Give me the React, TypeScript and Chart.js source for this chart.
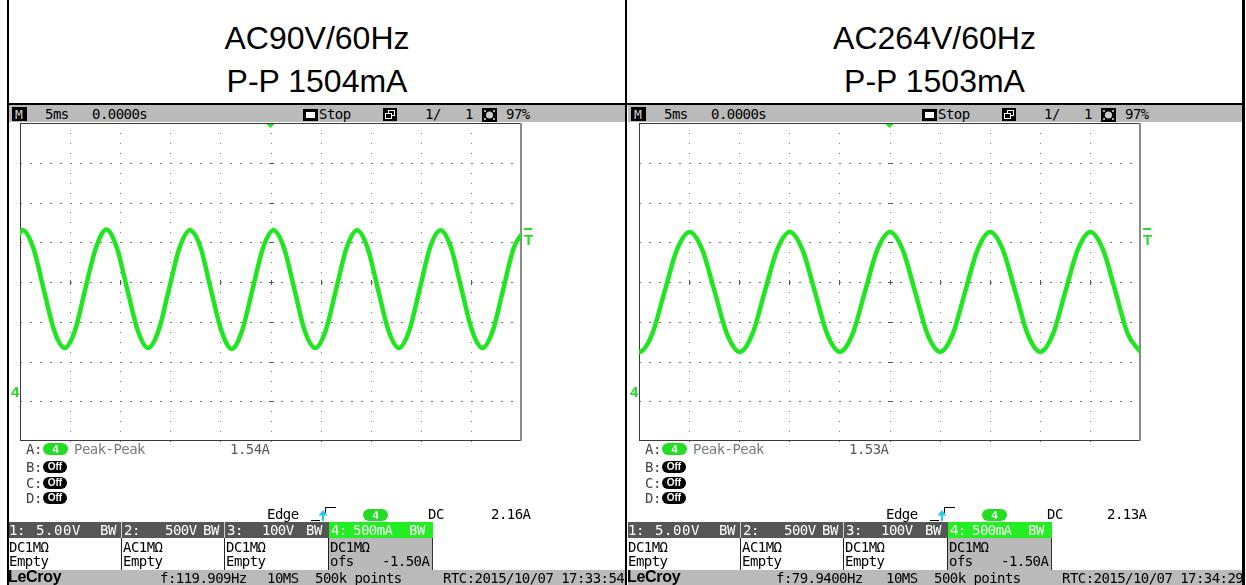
import React, { useEffect, useRef } from 'react';
import { Chart, registerables } from 'chart.js';

Chart.register(...registerables);

// ---------------- data ----------------
// Oscilloscope divisions: 5 ms/div horizontally, 500 mA/div vertically (ch4, offset -1.50 A)
const xDivsMs = [-25, -20, -15, -10, -5, 0, 5, 10, 15, 20, 25];
const yDivsA = [-0.5, 0, 0.5, 1, 1.5, 2, 2.5, 3, 3.5];

// Left scope (AC90V/60Hz) - channel 4 current
const leftTimeMs = [
  -25.76, -24.72, -23.68, -22.64, -21.59, -20.55, -19.51, -18.47, -17.42, -16.38,
  -15.34, -14.3, -13.25, -12.21, -11.17, -10.13, -9.08, -8.04, -7.0, -5.96,
  -4.91, -3.87, -2.83, -1.79, -0.74, 0.3, 1.34, 2.38, 3.43, 4.47,
  5.51, 6.55, 7.6, 8.64, 9.68, 10.72, 11.77, 12.81, 13.85, 14.89,
  15.94, 16.98, 18.02, 19.06, 20.11, 21.15, 22.19, 23.23, 24.28, 25.32,
];
const leftCurrentA = [
  1.93, 2.15, 1.93, 1.41, 0.89, 0.67, 0.89, 1.42, 1.93, 2.16,
  1.93, 1.41, 0.89, 0.67, 0.89, 1.41, 1.93, 2.15, 1.94, 1.41,
  0.89, 0.66, 0.89, 1.41, 1.93, 2.15, 1.93, 1.41, 0.88, 0.67,
  0.89, 1.41, 1.93, 2.15, 1.93, 1.41, 0.89, 0.67, 0.89, 1.41,
  1.94, 2.15, 1.93, 1.41, 0.89, 0.67, 0.89, 1.41, 1.93, 2.15,
];

// Right scope (AC264V/60Hz)
const rightTimeMs = [
  -26.2, -24.95, -23.7, -22.45, -21.2, -19.95, -18.7, -17.45, -16.2, -14.95,
  -13.7, -12.45, -11.2, -9.95, -8.7, -7.45, -6.2, -4.95, -3.7, -2.45,
  -1.2, 0.05, 1.3, 2.55, 3.8, 5.05, 6.3, 7.55, 8.8, 10.05,
  11.3, 12.55, 13.8, 15.05, 16.3, 17.55, 18.8, 20.05, 21.3, 22.55,
  23.8, 25.05,
];
const rightCurrentA = [
  0.84, 0.62, 0.84, 1.38, 1.91, 2.13, 1.91, 1.38, 0.84, 0.62,
  0.84, 1.38, 1.91, 2.13, 1.91, 1.38, 0.84, 0.62, 0.84, 1.38,
  1.91, 2.13, 1.91, 1.38, 0.84, 0.62, 0.84, 1.38, 1.91, 2.13,
  1.91, 1.38, 0.84, 0.62, 0.84, 1.38, 1.91, 2.13, 1.91, 1.38,
  0.84, 0.62,
];

const titleLine1 = ['AC90V/60Hz', 'AC264V/60Hz'];
const titleLine2 = ['P-P 1504mA', 'P-P 1503mA'];
const peakPeakValue = ['1.54A', '1.53A'];
const triggerValue = ['2.16A', '2.13A'];
const freqText = ['f:119.909Hz', 'f:79.9400Hz'];
const rtcText = ['RTC:2015/10/07 17:33:54', 'RTC:2015/10/07 17:34:29'];
const chScale = ['5.00V', '500V', '100V', '500mA'];
const chCoupling = ['DC1M\u03a9', 'AC1M\u03a9', 'DC1M\u03a9', 'DC1M\u03a9'];

// ---------------- styling ----------------
const GREEN = '#1fe61f';
const PILL_GREEN = '#22dd22';
const BAR_GRAY = '#bababa';
const MONO = '"DejaVu Sans Mono", monospace';
const SANS = '"Liberation Sans", Arial, sans-serif';

const PAD = 4;
const CW = 501 + PAD * 2;
const CH = 318 + PAD * 2;

const scopeGrid = {
  id: 'scopeGrid',
  beforeDatasetsDraw(chart: any) {
    const { ctx, chartArea: a, scales } = chart;
    const xs = xDivsMs.map((v) => scales.x.getPixelForValue(v));
    const ys = yDivsA.map((v) => scales.y.getPixelForValue(v));
    ctx.save();
    ctx.fillStyle = '#777';
    // vertical dotted lines, 4 dots per division
    for (let i = 1; i < xs.length - 1; i++) {
      const px = Math.round(xs[i]);
      for (let j = 0; j < ys.length - 1; j++) {
        for (let k = 0; k < 4; k++) {
          const py = Math.round(ys[j] + ((ys[j + 1] - ys[j]) * k) / 4);
          ctx.fillRect(px, py, 1, 1);
        }
      }
    }
    // horizontal dotted lines, 5 dots per division
    for (let j = 1; j < ys.length - 1; j++) {
      const py = Math.round(ys[j]);
      for (let i = 0; i < xs.length - 1; i++) {
        for (let k = 0; k < 5; k++) {
          const px = Math.round(xs[i] + ((xs[i + 1] - xs[i]) * k) / 5);
          ctx.fillRect(px, py, 2, 1);
        }
      }
    }
    // centre cross ticks
    const cx = Math.round(scales.x.getPixelForValue(0));
    const cy = Math.round(scales.y.getPixelForValue(1.5));
    ctx.fillStyle = '#555';
    for (let j = 1; j < ys.length - 1; j++) ctx.fillRect(cx - 2, Math.round(ys[j]), 5, 1);
    for (let i = 1; i < xs.length - 1; i++) ctx.fillRect(Math.round(xs[i]), cy - 2, 1, 5);
    // frame
    ctx.fillStyle = '#3a3a3a';
    ctx.fillRect(a.left, a.top, a.width, 1);
    ctx.fillRect(a.left, a.bottom - 1, a.width, 1);
    ctx.fillRect(a.left, a.top, 1, a.height);
    ctx.fillStyle = '#8a8a8a';
    ctx.fillRect(a.right - 1, a.top, 2, a.height);
    ctx.restore();
  },
  afterDatasetsDraw(chart: any) {
    const { ctx, chartArea: a, scales } = chart;
    const cx = scales.x.getPixelForValue(0);
    ctx.save();
    ctx.fillStyle = GREEN;
    ctx.beginPath();
    ctx.moveTo(cx - 4, a.top + 1);
    ctx.lineTo(cx + 4, a.top + 1);
    ctx.lineTo(cx, a.top + 5);
    ctx.closePath();
    ctx.fill();
    ctx.restore();
  },
};

function ScopeChart({ times, amps }: { times: number[]; amps: number[] }) {
  const ref = useRef<HTMLCanvasElement | null>(null);
  useEffect(() => {
    if (!ref.current) return;
    const chart = new Chart(ref.current, {
      type: 'line',
      data: {
        datasets: [
          {
            data: times.map((t, i) => ({ x: t, y: amps[i] })),
            borderColor: GREEN,
            borderWidth: 4.5,
            pointRadius: 0,
            fill: false,
            cubicInterpolationMode: 'monotone',
            borderCapStyle: 'round',
            borderJoinStyle: 'round',
            clip: 0,
          } as any,
        ],
      },
      options: {
        animation: false,
        responsive: false,
        maintainAspectRatio: false,
        events: [],
        layout: { padding: PAD },
        plugins: { legend: { display: false }, tooltip: { enabled: false } },
        scales: {
          x: { type: 'linear', min: -25, max: 25, display: false },
          y: { type: 'linear', min: -0.5, max: 3.5, display: false },
        },
      },
      plugins: [scopeGrid],
    });
    return () => chart.destroy();
  }, [times, amps]);
  return (
    <canvas
      ref={ref}
      width={CW}
      height={CH}
      style={{ position: 'absolute', left: 20 - PAD, top: 123 - PAD, width: CW, height: CH }}
    />
  );
}

function Txt({ x, b, s = 14, c = '#000', w = 400, f = MONO, ls, children }: any) {
  const spacing = ls !== undefined ? ls : f === MONO ? -0.55 : 0;
  return (
    <span
      style={{
        position: 'absolute',
        left: x,
        top: b - 0.846 * s,
        fontSize: s,
        lineHeight: s + 'px',
        fontFamily: f,
        fontWeight: w,
        color: c,
        whiteSpace: 'pre',
        letterSpacing: spacing,
      }}
    >
      {children}
    </span>
  );
}

function Box({ x, y, w, h, bg, r = 0, z }: any) {
  return (
    <div style={{ position: 'absolute', left: x, top: y, width: w, height: h, background: bg, borderRadius: r, zIndex: z }} />
  );
}

function Pill({ x, y, w, h, bg, text, s }: any) {
  return (
    <div
      style={{
        position: 'absolute',
        left: x,
        top: y,
        width: w,
        height: h,
        background: bg,
        borderRadius: h / 2,
        color: '#fff',
        fontFamily: SANS,
        fontWeight: 700,
        fontSize: s,
        lineHeight: h + 'px',
        textAlign: 'center',
      }}
    >
      {text}
    </div>
  );
}

function Panel({ idx, ox, width, times, amps }: any) {
  const trigX = idx === 0 ? 491 : 488;
  const fX = idx === 0 ? 160 : 157;
  return (
    <div style={{ position: 'absolute', left: ox, top: 0, width, height: 585, overflow: 'hidden' }}>
      {/* top status bar */}
      <Box x={9} y={105} w={620} h={17} bg={BAR_GRAY} />
      <Box x={12} y={107} w={15} h={14} bg="#000" />
      <Txt x={15} b={119} s={13} c="#cfcfcf" ls={0}>M</Txt>
      <Txt x={45} b={119}>5ms</Txt>
      <Txt x={92} b={119}>0.0000s</Txt>
      <Box x={303} y={109} w={15} h={12} bg="#000" />
      <Box x={306} y={112} w={9} h={6} bg="#fff" />
      <Txt x={319} b={119}>Stop</Txt>
      <svg style={{ position: 'absolute', left: 383, top: 108 }} width={14} height={13}>
        <rect x={0} y={0} width={14} height={13} fill="#000" />
        <rect x={5.5} y={2.5} width={6} height={5} fill="none" stroke="#fff" />
        <rect x={2.5} y={5.5} width={6} height={5} fill="#000" stroke="#fff" />
      </svg>
      <Txt x={425} b={119}>1/</Txt>
      <Txt x={465} b={119}>1</Txt>
      <svg style={{ position: 'absolute', left: 482, top: 108 }} width={15} height={14}>
        <rect x={0} y={0} width={15} height={14} fill="#000" />
        <circle cx={7.5} cy={7} r={3.5} fill="#ccc" />
        <rect x={2} y={2} width={2} height={2} fill="#aaa" />
        <rect x={11} y={2} width={2} height={2} fill="#aaa" />
        <rect x={2} y={10} width={2} height={2} fill="#aaa" />
        <rect x={11} y={10} width={2} height={2} fill="#aaa" />
      </svg>
      <Txt x={506} b={119}>97%</Txt>

      {/* plot */}
      <ScopeChart times={times} amps={amps} />
      <Txt x={11} b={397} s={15} w={700} c={PILL_GREEN} f={SANS}>4</Txt>
      <Box x={524} y={228} w={8} h={2} bg={PILL_GREEN} />
      <Txt x={524} b={245} s={15} w={700} c={PILL_GREEN} f={SANS}>T</Txt>

      {/* measurements */}
      <Txt x={26} b={454} c="#444">A:</Txt>
      <Pill x={43} y={443} w={25} h={12} bg={PILL_GREEN} text="4" s={11} />
      <Txt x={74} b={454} c="#7c7c7c">Peak-Peak</Txt>
      <Txt x={230} b={454} c="#5a5a5a">{peakPeakValue[idx]}</Txt>
      <Txt x={26} b={472} c="#444">B:</Txt>
      <Pill x={43} y={461} w={24} h={12} bg="#000" text="Off" s={10} />
      <Txt x={26} b={487.5} c="#444">C:</Txt>
      <Pill x={43} y={476.5} w={24} h={12} bg="#000" text="Off" s={10} />
      <Txt x={26} b={502.5} c="#444">D:</Txt>
      <Pill x={43} y={491.5} w={24} h={12} bg="#000" text="Off" s={10} />

      {/* trigger line */}
      <Txt x={267} b={519}>Edge</Txt>
      <svg style={{ position: 'absolute', left: 308, top: 504 }} width={30} height={18}>
        <line x1={3} y1={16.5} x2={12} y2={16.5} stroke="#000" strokeWidth={1} />
        <line x1={17.5} y1={3.5} x2={17.5} y2={9} stroke="#000" strokeWidth={1} />
        <line x1={17.5} y1={3.5} x2={28} y2={3.5} stroke="#000" strokeWidth={1} />
        <polygon points="10.5,11.5 19.5,11.5 15,6" fill="#22c8f0" />
        <rect x={14} y={11} width={2} height={6} fill="#22c8f0" />
      </svg>
      <Pill x={363} y={509} w={25} h={12} bg={PILL_GREEN} text="4" s={11} />
      <Txt x={428} b={519}>DC</Txt>
      <Txt x={trigX} b={519}>{triggerValue[idx]}</Txt>

      {/* channel boxes */}
      <Box x={9} y={522} w={320} h={16} bg="#565656" />
      <Box x={121} y={522} w={1} h={16} bg="#cfcfcf" />
      <Box x={224} y={522} w={1} h={16} bg="#cfcfcf" />
      <Box x={329} y={522} w={104} h={16} bg="#22ee22" />
      <Txt x={9} b={535} c="#fff">1:</Txt>
      <Txt x={36} b={535} c="#fff" ls={0.6}>{chScale[0]}</Txt>
      <Txt x={100} b={535} c="#fff">BW</Txt>
      <Txt x={124} b={535} c="#fff">2:</Txt>
      <Txt x={165} b={535} c="#fff">{chScale[1]}</Txt>
      <Txt x={203} b={535} c="#fff">BW</Txt>
      <Txt x={227} b={535} c="#fff">3:</Txt>
      <Txt x={262} b={535} c="#fff">{chScale[2]}</Txt>
      <Txt x={306} b={535} c="#fff">BW</Txt>
      <Txt x={331} b={535} c="#fff">4:</Txt>
      <Txt x={353} b={535} c="#fff">{chScale[3]}</Txt>
      <Txt x={409} b={535} c="#fff">BW</Txt>
      <Box x={121} y={538} w={1} h={32} bg="#222" />
      <Box x={224} y={538} w={1} h={32} bg="#222" />
      <Box x={328} y={538} w={105} h={32} bg="#b9b9b9" />
      <Box x={328} y={538} w={1} h={32} bg="#222" />
      <Box x={432} y={538} w={1} h={32} bg="#333" />
      <Txt x={9} b={551.5}>{chCoupling[0]}</Txt>
      <Txt x={123} b={551.5}>{chCoupling[1]}</Txt>
      <Txt x={226} b={551.5}>{chCoupling[2]}</Txt>
      <Txt x={330} b={551.5}>{chCoupling[3]}</Txt>
      <Txt x={9} b={566}>Empty</Txt>
      <Txt x={123} b={566}>Empty</Txt>
      <Txt x={226} b={566}>Empty</Txt>
      <Txt x={330} b={566}>ofs</Txt>
      <Txt x={382} b={566}>-1.50A</Txt>

      {/* bottom status bar */}
      <Box x={9} y={570} w={620} h={15} bg={BAR_GRAY} />
      <Txt x={8} b={583} s={16} w={700} f={SANS} ls={-0.3}>LeCroy</Txt>
      <Txt x={fX} b={583}>{freqText[idx]}</Txt>
      <Txt x={267} b={583}>10MS</Txt>
      <Txt x={315} b={583}>500k points</Txt>
      <Txt x={443} b={583}>{rtcText[idx]}</Txt>
    </div>
  );
}

export default function App() {
  return (
    <div style={{ position: 'fixed', left: 0, top: 0, width: 1246, height: 585, background: '#fff', overflow: 'hidden' }}>
      {/* titles */}
      {[0, 1].map((i) => (
        <div key={i} style={{ position: 'absolute', left: i === 0 ? 9 : 627, top: 0, width: i === 0 ? 616 : 615, height: 103 }}>
          <div style={{ position: 'absolute', left: 0, width: '100%', top: 49 - 0.846 * 32, fontFamily: SANS, fontSize: 32, lineHeight: '32px', textAlign: 'center' }}>
            {titleLine1[i]}
          </div>
          <div style={{ position: 'absolute', left: 0, width: '100%', top: 92 - 0.846 * 32, fontFamily: SANS, fontSize: 32, lineHeight: '32px', textAlign: 'center' }}>
            {titleLine2[i]}
          </div>
        </div>
      ))}
      <Panel idx={0} ox={0} width={627} times={leftTimeMs} amps={leftCurrentA} />
      <Panel idx={1} ox={619} width={623} times={rightTimeMs} amps={rightCurrentA} />
      {/* table borders */}
      <Box x={7} y={103} w={1238} h={2} bg="#000" z={5} />
      <Box x={7} y={0} w={2} h={585} bg="#000" z={5} />
      <Box x={625} y={0} w={2} h={585} bg="#000" z={5} />
      <Box x={1242} y={0} w={3} h={585} bg="#000" z={5} />
    </div>
  );
}
